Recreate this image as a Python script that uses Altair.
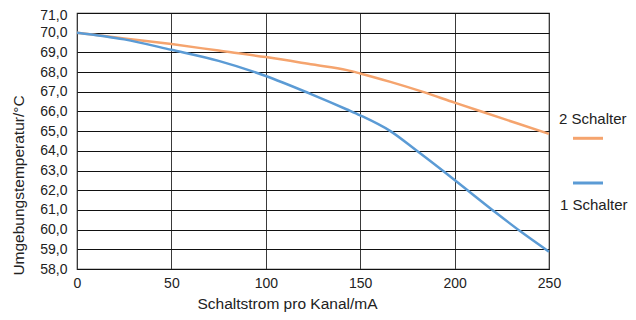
import altair as alt
import pandas as pd

# Data
x_2s = [0, 25, 50, 75, 100, 125, 143, 150, 166, 182, 200, 215, 233, 250]
y_2s = [70.0, 69.71, 69.42, 69.09, 68.76, 68.38, 68.1, 67.93, 67.5, 67.03, 66.45, 65.97, 65.4, 64.86]

x_1s = [0, 25, 50, 75, 100, 123, 143, 150, 166, 180, 200, 220, 235, 250]
y_1s = [70.0, 69.66, 69.13, 68.57, 67.8, 66.92, 66.1, 65.8, 65.0, 64.0, 62.52, 61.0, 59.9, 58.88]

series_names = ["2 Schalter", "1 Schalter"]
series_colors = ["#F5A46E", "#5B9BD5"]

x_ticks = [0, 50, 100, 150, 200, 250]
y_ticks = list(range(58, 72))

FONT = "Liberation Sans"

df = pd.concat([
    pd.DataFrame({"strom": x_2s, "temp": y_2s, "serie": series_names[0]}),
    pd.DataFrame({"strom": x_1s, "temp": y_1s, "serie": series_names[1]}),
])

W, H = 472, 256

x_scale = alt.Scale(domain=[0, 250], nice=False)
y_scale = alt.Scale(domain=[58, 71], nice=False)

lines = alt.Chart(df).mark_line(strokeWidth=2.5, interpolate="monotone").encode(
    x=alt.X(
        "strom:Q",
        scale=x_scale,
        axis=alt.Axis(
            values=x_ticks,
            title="Schaltstrom pro Kanal/mA",
            grid=True,
            gridColor="#3a3a3a",
            gridOpacity=1,
            gridWidth=1,
            ticks=False,
            domain=False,
            labelPadding=7,
            labelFontSize=14,
            labelColor="#222",
            labelFont=FONT,
            labelFlush=False,
            labelOverlap=False,
            titleFont=FONT,
            titleFontSize=15.5,
            titleFontWeight="normal",
            titleColor="#222",
            titleX=210,
            titleY=27,
            titleBaseline="top",
        ),
    ),
    y=alt.Y(
        "temp:Q",
        scale=y_scale,
        axis=alt.Axis(
            values=y_ticks,
            title="Umgebungstemperatur/°C",
            labelExpr="replace(format(datum.value, '.1f'), '.', ',')",
            labelOffset={"condition": {"test": "datum.value >= 71", "value": 2}, "value": 0},
            grid=True,
            gridColor="#111111",
            gridOpacity=1,
            gridWidth=1,
            ticks=False,
            domain=False,
            labelPadding=10,
            labelFontSize=14,
            labelColor="#222",
            labelFont=FONT,
            labelFlush=False,
            labelOverlap=False,
            titleFont=FONT,
            titleFontSize=15.5,
            titleFontWeight="normal",
            titleColor="#222",
            titlePadding=13,
            titleY=172,
        ),
    ),
    color=alt.Color(
        "serie:N",
        scale=alt.Scale(domain=series_names, range=series_colors),
        legend=None,
    ),
)

# custom legend (label above line for "2 Schalter", below for "1 Schalter")
leg_txt_2 = alt.Chart(pd.DataFrame({"t": [series_names[0]]})).mark_text(
    align="left", baseline="alphabetic", fontSize=15, font=FONT, color="#222"
).encode(text="t:N", x=alt.value(482), y=alt.value(111))
leg_txt_1 = alt.Chart(pd.DataFrame({"t": [series_names[1]]})).mark_text(
    align="left", baseline="alphabetic", fontSize=15, font=FONT, color="#222"
).encode(text="t:N", x=alt.value(483), y=alt.value(197))
leg_line_2 = alt.Chart(pd.DataFrame({"t": [series_names[0]]})).mark_rule(
    color=series_colors[0], strokeWidth=3
).encode(x=alt.value(496), x2=alt.value(526), y=alt.value(125.3))
leg_line_1 = alt.Chart(pd.DataFrame({"t": [series_names[1]]})).mark_rule(
    color=series_colors[1], strokeWidth=3
).encode(x=alt.value(496), x2=alt.value(526), y=alt.value(170))

chart = alt.layer(
    lines, leg_txt_2, leg_txt_1, leg_line_2, leg_line_1
).properties(
    width=W,
    height=H,
    autosize=alt.AutoSizeParams(type="none"),
    padding={"left": 69, "top": 5, "right": 79, "bottom": 43},
    background="white",
).configure_view(
    stroke="#222", strokeWidth=1.2
)

chart.save("out.html", embed_options={"renderer": "svg", "actions": False})
